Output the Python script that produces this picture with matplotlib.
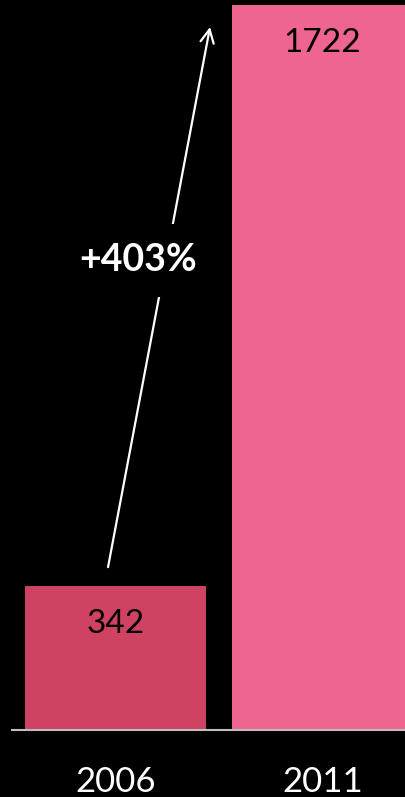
import matplotlib.pyplot as plt

years = ['2006', '2011']
values = [342, 1722]
bar_colors = ['#D04262', '#EE6690']
growth_label = '+403%'

plt.rcParams['font.family'] = ['Lato', 'DejaVu Sans']

fig = plt.figure(figsize=(4.05, 7.97), dpi=100, facecolor='black')
ax = fig.add_axes([0, 0, 1, 1], facecolor='black')

x = list(range(len(years)))
bars = ax.bar(x, values, width=0.874, color=bar_colors, zorder=2)

for xi, v in zip(x, values):
    ax.annotate(str(v), (xi, v), xytext=(0, -27), textcoords='offset points',
                ha='center', va='center', fontsize=24, color='black', zorder=3)

ax.axhline(0, xmin=0.03, xmax=1, color='#BFBFBF', lw=1.5, zorder=3)

ax.set_xlim(-0.558, 1.399)
ax.set_ylim(-159, 1734)
ax.spines['bottom'].set_position(('data', 0))
ax.set_xticks(x)
ax.set_xticklabels(years, fontsize=25, color='white')
ax.tick_params(axis='x', length=0, pad=26)
ax.set_yticks([])
for s in ax.spines.values():
    s.set_visible(False)

# growth arrow from the 2006 bar up to the 2011 top
tail = (-0.036, values[0] + 45)
head = (0.457, values[1] - 52)
ax.annotate('', xy=head, xytext=tail,
            arrowprops=dict(arrowstyle='->', color='white', lw=1.6,
                            mutation_scale=24, shrinkA=0, shrinkB=0), zorder=4)
ax.text(0.109, 1116, growth_label, ha='center', va='center', fontsize=27,
        fontweight='bold', color='white', zorder=5,
        bbox=dict(facecolor='black', edgecolor='none', pad=14))

fig.savefig('out.png', dpi=100, facecolor='black')
